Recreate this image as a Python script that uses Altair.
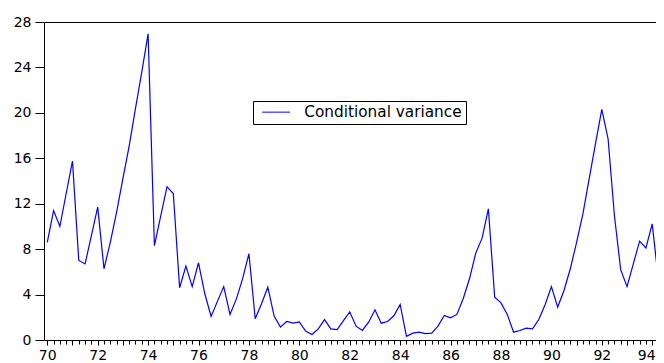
import altair as alt
import pandas as pd

# Quarterly observations, 1970Q1 onwards
start_year = 1970
cond_var = [
    8.6, 11.4, 10.0, 12.9,      # 1970
    15.75, 7.0, 6.7, 9.2,       # 1971
    11.7, 6.27, 8.6, 11.25,     # 1972
    14.2, 17.1, 20.4, 23.6,     # 1973
    26.96, 8.3, 10.9, 13.5,     # 1974
    12.9, 4.6, 6.5, 4.7,        # 1975
    6.8, 4.07, 2.07, 3.4,       # 1976
    4.7, 2.25, 3.6, 5.4,        # 1977
    7.6, 1.87, 3.2, 4.65,       # 1978
    2.1, 1.13, 1.63, 1.48,      # 1979
    1.6, 0.78, 0.48, 0.98,      # 1980
    1.8, 0.98, 0.92, 1.7,       # 1981
    2.48, 1.22, 0.84, 1.57,     # 1982
    2.66, 1.48, 1.63, 2.13,     # 1983
    3.13, 0.33, 0.6, 0.69,      # 1984
    0.57, 0.6, 1.22, 2.16,      # 1985
    1.95, 2.25, 3.63, 5.39,     # 1986
    7.65, 8.97, 11.55, 3.77,    # 1987
    3.27, 2.25, 0.69, 0.84,     # 1988
    1.04, 0.98, 1.8, 3.1,       # 1989
    4.7, 2.9, 4.36, 6.27,       # 1990
    8.6, 11.1, 14.2, 17.3,      # 1991
    20.3, 17.7, 10.96, 6.2,     # 1992
    4.7, 6.7, 8.7, 8.1,         # 1993
    10.23, 5.2,                 # 1994
]
series_name = "Conditional variance"
y_ticks = [0, 4, 8, 12, 16, 20, 24, 28]

t = [start_year + i / 4 for i in range(len(cond_var))]
df = pd.DataFrame({"t": t, "v": cond_var, "series": series_name})

quarter_ticks = [start_year + i / 4 for i in range(0, 4 * 26)]
x_domain = [1969.87, 1994.15]
FONT = "DejaVu Sans"

x_scale = alt.Scale(domain=x_domain, nice=False, zero=False)

line = alt.Chart(df).mark_line(strokeWidth=1.2, clip=True).encode(
    x=alt.X(
        "t:Q",
        scale=x_scale,
        axis=alt.Axis(
            orient="bottom",
            values=quarter_ticks,
            tickSize={"condition": {"test": "datum.value % 1 == 0", "value": 5}, "value": 4},
            labelExpr="datum.value % 2 == 0 ? substring(toString(datum.value), 2, 4) : ''",
            labelOffset={"condition": {"test": "datum.value == 1994", "value": -6}, "value": 0},
            labelOverlap=False,
            labelFlush=False,
            grid=False,
            title=None,
            domainColor="black",
            tickColor="black",
            labelColor="black",
            labelFont=FONT,
            labelFontSize=14,
            labelPadding=3,
        ),
    ),
    y=alt.Y(
        "v:Q",
        scale=alt.Scale(domain=[0, 28], nice=False),
        axis=alt.Axis(
            values=y_ticks,
            tickSize=9,
            grid=False,
            title=None,
            domainColor="black",
            tickColor="black",
            labelColor="black",
            labelFont=FONT,
            labelFontSize=14,
            labelPadding=4,
            labelFlush=False,
        ),
    ),
    color=alt.Color(
        "series:N",
        scale=alt.Scale(range=["#0000FF"]),
        legend=alt.Legend(
            title=None,
            orient="none",
            legendX=209,
            legendY=79,
            symbolType="M-2,0H2",
            symbolSize=196,
            symbolStrokeWidth=1,
            symbolOffset=12,
            labelOffset=20.5,
            labelFont=FONT,
            labelFontSize=15.3,
            labelColor="black",
            labelLimit=300,
            labelExpr="datum.label + ' '",
            strokeColor="black",
            fillColor="white",
            padding=3.5,
        ),
    ),
)

top_border = alt.Chart(df).mark_point(opacity=0).encode(
    x=alt.X(
        "t:Q",
        scale=x_scale,
        axis=alt.Axis(orient="top", labels=False, ticks=False, domain=True,
                      domainColor="black", grid=False, title=None),
    )
)

chart = (
    alt.layer(line, top_border)
    .resolve_axis(x="independent")
    .properties(
        width=612,
        height=318,
        autosize=alt.AutoSizeParams(type="none"),
        padding={"left": 36, "top": 14, "right": 0, "bottom": 23},
        background="white",
    )
    .configure_view(stroke=None)
)

chart.save("out.html", embed_options={"renderer": "svg", "actions": False})
